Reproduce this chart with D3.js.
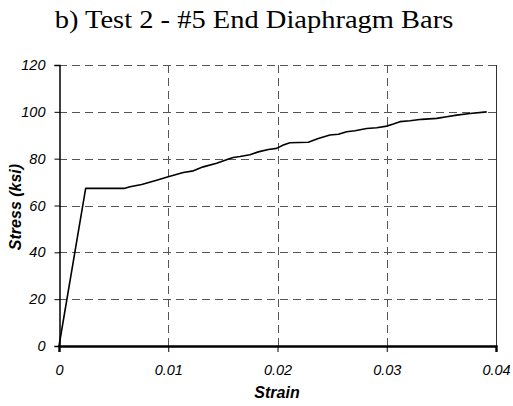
<!DOCTYPE html>
<html><head><meta charset="utf-8">
<script src="https://cdn.jsdelivr.net/npm/d3@7"></script>
<style>body{margin:0;background:#fff}svg{display:block}</style>
</head><body>
<script>
const strain = [0, 0.00244, 0.00595, 0.0065, 0.00757, 0.00894, 0.0100, 0.01138, 0.0123, 0.0132, 0.01443, 0.01565, 0.01595, 0.01657, 0.01748, 0.01824, 0.01916, 0.01992, 0.02053, 0.02114, 0.02282, 0.02373, 0.0248, 0.02557, 0.02633, 0.02709, 0.02816, 0.02908, 0.0300, 0.0306, 0.03121, 0.03213, 0.0332, 0.03457, 0.03549, 0.0364, 0.03762, 0.03915];
const stress = [0, 67.3, 67.3, 68, 69, 70.8, 72.3, 74.1, 74.8, 76.5, 78, 80.1, 80.5, 80.9, 81.7, 82.9, 83.9, 84.4, 85.8, 86.8, 87.0, 88.6, 90.1, 90.4, 91.5, 91.9, 92.9, 93.2, 93.9, 94.8, 95.8, 96.2, 96.8, 97.2, 97.9, 98.6, 99.3, 100];
const xTicks = [0, 0.01, 0.02, 0.03, 0.04];
const xTickLabels = ["0", "0.01", "0.02", "0.03", "0.04"];
const yTicks = [0, 20, 40, 60, 80, 100, 120];
const titleText = "b) Test 2 - #5 End Diaphragm Bars";
const xTitle = "Strain";
const yTitle = "Stress (ksi)";

const W = 513, H = 406;
const m = {left: 59, right: 17, top: 65, bottom: 60};
const svg = d3.select("body").append("svg").attr("width", W).attr("height", H);
const x = d3.scaleLinear().domain([0, 0.04]).range([m.left, W - m.right]);
const y = d3.scaleLinear().domain([0, 120]).range([H - m.bottom, m.top]);
const sans = "'Liberation Sans', Arial, sans-serif";

svg.append("text").attr("transform", "translate(254,27.5) scale(1.14,1)").attr("text-anchor", "middle")
  .attr("font-family", "'Liberation Serif', 'Times New Roman', serif").attr("font-size", 25)
  .text(titleText);

// grid
const grid = svg.append("g").attr("stroke", "#555").attr("stroke-width", 1).attr("stroke-dasharray", "8,5");
grid.selectAll("line.h").data(yTicks.filter(d => d > 0)).join("line")
  .attr("x1", x(0)).attr("x2", x(0.04)).attr("y1", d => Math.round(y(d)) + 0.5).attr("y2", d => Math.round(y(d)) + 0.5);
grid.selectAll("line.v").data(xTicks.filter(d => d > 0 && d < 0.04)).join("line")
  .attr("y1", y(120)).attr("y2", y(0)).attr("x1", d => Math.round(x(d)) + 0.5).attr("x2", d => Math.round(x(d)) + 0.5);

// right border
svg.append("line").attr("x1", Math.round(x(0.04)) + 0.5).attr("x2", Math.round(x(0.04)) + 0.5)
  .attr("y1", y(120)).attr("y2", y(0)).attr("stroke", "#333").attr("stroke-width", 1);

// axes
const yAxis = d3.axisLeft(y).tickValues(yTicks).tickSize(5).tickFormat(d3.format("d"));
const gy = svg.append("g").attr("transform", `translate(${Math.round(x(0)) + 0.5},0)`).call(yAxis);
gy.select(".domain").attr("stroke", "#000").attr("stroke-width", 1.5);
gy.selectAll(".tick line").attr("stroke", "#000");
gy.selectAll("text").attr("font-family", sans).attr("font-size", 14.5)
  .attr("font-style", "italic").attr("fill", "#000").attr("x", -14);

const xAxis = d3.axisBottom(x).tickValues(xTicks).tickSize(6).tickFormat((d, i) => xTickLabels[i]);
const gx = svg.append("g").attr("transform", `translate(0,${Math.round(y(0))})`).call(xAxis);
gx.select(".domain").attr("stroke", "#000").attr("stroke-width", 2.4);
gx.selectAll(".tick line").attr("stroke", "#000");
gx.selectAll("text").attr("font-family", sans).attr("font-size", 14.5)
  .attr("font-style", "italic").attr("fill", "#000").attr("y", 19);

// curve
const line = d3.line().x((d, i) => x(strain[i])).y((d, i) => y(stress[i]));
svg.append("path").datum(stress).attr("d", line).attr("fill", "none")
  .attr("stroke", "#000").attr("stroke-width", 1.6).attr("stroke-linejoin", "round");

// axis titles
svg.append("text").attr("x", 277).attr("y", 398).attr("text-anchor", "middle")
  .attr("font-family", sans).attr("font-size", 16)
  .attr("font-weight", "bold").attr("font-style", "italic").text(xTitle);
svg.append("text").attr("transform", `translate(21,207) rotate(-90)`)
  .attr("text-anchor", "middle")
  .attr("font-family", sans).attr("font-size", 16)
  .attr("font-weight", "bold").attr("font-style", "italic").text(yTitle);
</script>
</body></html>
